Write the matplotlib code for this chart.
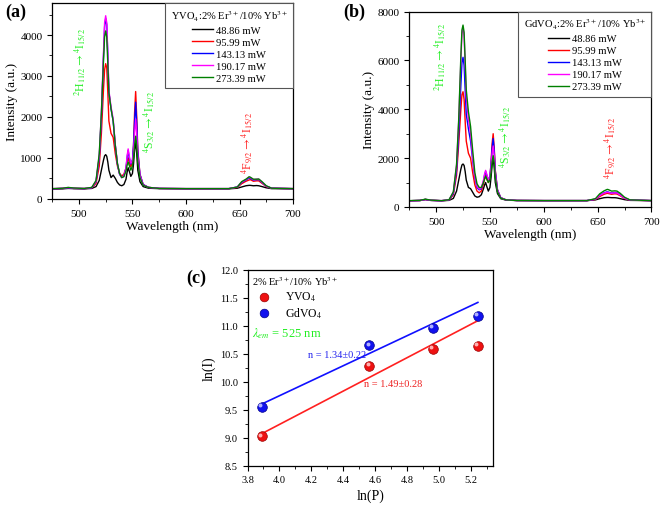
import matplotlib
matplotlib.use("Agg")
import matplotlib.pyplot as plt
from matplotlib.ticker import MultipleLocator

plt.rcParams['font.family'] = ['Liberation Serif', 'DejaVu Serif']
plt.rcParams['mathtext.fontset'] = 'stix'

# ---------------- data ----------------
powers = ["48.86 mW", "95.99 mW", "143.13 mW", "190.17 mW", "273.39 mW"]
line_colors = ["black", "#ff0000", "#0000ff", "#ff00ff", "#008000"]

wl = [475, 485, 490, 495, 505, 512, 516, 519, 521, 523, 524, 525, 526, 527, 528,
      530, 532, 534, 536, 538, 540, 542, 544, 545, 546, 547, 548.5, 550, 551, 552,
      553, 554, 555, 557, 560, 565, 575, 600, 640, 648, 652, 656, 659, 660, 663,
      666, 668, 671, 675, 680, 700]

# YVO4 spectra
yvo_4886 = [240, 245, 255, 250, 245, 255, 300, 450, 700, 950, 1050, 1080, 1040, 900, 700,
            520, 580, 500, 400, 340, 320, 350, 480, 650, 760, 680, 550, 620, 850, 1200,
            1400, 1100, 700, 420, 300, 260, 250, 245, 245, 260, 290, 320, 330, 330, 320,
            325, 320, 300, 270, 250, 245]
yvo_9599 = [245, 255, 270, 255, 250, 265, 380, 800, 1600, 2700, 3150, 3300, 3200, 2600, 1900,
            1600, 1500, 1100, 800, 620, 560, 600, 750, 900, 1000, 900, 780, 900, 1300, 2100,
            2620, 2000, 1200, 600, 350, 280, 255, 250, 250, 280, 370, 430, 460, 470, 430,
            440, 440, 380, 300, 260, 250]
yvo_14313 = [245, 255, 270, 255, 250, 270, 420, 1000, 2000, 3500, 4200, 4400, 4250, 3500, 2600,
             2200, 1900, 1300, 850, 600, 520, 560, 750, 1000, 1180, 1000, 850, 950, 1300, 1900,
             2360, 1850, 1150, 600, 350, 280, 255, 250, 250, 290, 400, 460, 510, 500, 460,
             470, 470, 400, 310, 260, 250]
yvo_19017 = [250, 260, 275, 260, 255, 275, 430, 1050, 2100, 3600, 4300, 4470, 4300, 3550, 2650,
             2250, 1950, 1320, 860, 610, 520, 560, 760, 1050, 1220, 1050, 870, 920, 1150, 1600,
             1950, 1600, 1050, 580, 340, 280, 255, 250, 250, 290, 410, 470, 530, 520, 470,
             480, 480, 410, 310, 260, 250]
yvo_27339 = [250, 260, 280, 265, 255, 280, 450, 1100, 2100, 3400, 3950, 4100, 3950, 3300, 2600,
             2200, 1900, 1300, 860, 620, 520, 540, 680, 820, 900, 820, 700, 800, 1000, 1300,
             1530, 1300, 900, 520, 330, 280, 255, 250, 250, 290, 420, 480, 540, 530, 480,
             480, 485, 420, 320, 260, 250]

# GdVO4 spectra
gd_4886 = [255, 265, 300, 270, 255, 270, 350, 650, 1100, 1550, 1720, 1760, 1700, 1450, 1100,
           800, 750, 600, 450, 400, 420, 500, 750, 900, 1000, 850, 650, 800, 1200, 1700,
           2000, 1600, 1000, 550, 340, 280, 265, 260, 260, 290, 340, 380, 390, 390, 380,
           380, 370, 340, 300, 270, 260]
gd_9599 = [255, 265, 310, 270, 255, 280, 500, 1300, 2600, 4000, 4600, 4720, 4400, 3500, 2700,
           2200, 2000, 1400, 900, 650, 580, 650, 950, 1150, 1300, 1150, 1000, 1200, 1800, 2600,
           3000, 2400, 1500, 700, 380, 290, 265, 260, 260, 310, 430, 520, 560, 550, 520,
           540, 530, 460, 350, 280, 260]
gd_14313 = [255, 265, 310, 270, 255, 285, 550, 1500, 3000, 5000, 5900, 6130, 5800, 4800, 3800,
            3200, 2700, 1900, 1200, 800, 700, 750, 1050, 1300, 1450, 1300, 1100, 1250, 1750, 2400,
            2800, 2300, 1450, 700, 380, 290, 265, 260, 260, 320, 480, 580, 620, 610, 570,
            590, 580, 500, 370, 285, 260]
gd_19017 = [255, 265, 310, 275, 260, 290, 600, 1700, 3500, 6000, 7100, 7350, 7000, 5800, 4500,
            3600, 3000, 2000, 1250, 850, 730, 780, 1100, 1350, 1500, 1350, 1120, 1200, 1600, 2200,
            2500, 2100, 1350, 680, 370, 290, 265, 260, 260, 320, 470, 570, 600, 590, 560,
            580, 570, 490, 360, 285, 260]
gd_27339 = [260, 270, 320, 280, 260, 295, 620, 1750, 3600, 6200, 7250, 7450, 7150, 6000, 4800,
            3900, 3300, 2300, 1400, 950, 800, 800, 1000, 1150, 1250, 1150, 1000, 1100, 1400, 1850,
            2100, 1800, 1200, 620, 360, 290, 265, 260, 260, 340, 540, 660, 720, 710, 650,
            660, 650, 560, 400, 290, 260]

yvo_spectra = [yvo_4886, yvo_9599, yvo_14313, yvo_19017, yvo_27339]
gd_spectra = [gd_4886, gd_9599, gd_14313, gd_19017, gd_27339]

# panel (c): ln(P) vs ln(I)
lnP = [3.89, 4.565, 4.965, 5.245]
lnI_yvo = [9.02, 10.28, 10.58, 10.64]
lnI_gd = [9.55, 10.65, 10.96, 11.18]
fit_x = [3.89, 5.245]
slope_yvo, icpt_yvo = 1.49, 3.274
slope_gd, icpt_gd = 1.34, 4.387

green_txt = "#22ee22"
red_txt = "#ff2222"

fig = plt.figure(figsize=(6.6, 5.06), dpi=100)


def style_spec_axes(ax, ymax, ymaj, ymin):
    ax.set_xlim(475, 700)
    ax.set_ylim(0, ymax)
    ax.xaxis.set_major_locator(MultipleLocator(50))
    ax.xaxis.set_minor_locator(MultipleLocator(25))
    ax.yaxis.set_major_locator(MultipleLocator(ymaj))
    ax.yaxis.set_minor_locator(MultipleLocator(ymin))
    ax.tick_params(which='both', direction='out', top=False, right=False, labelsize=8)
    ax.tick_params(which='major', length=3.5)
    ax.tick_params(which='minor', length=2)
    ax.set_xlabel("Wavelength (nm)", fontsize=9.5, labelpad=2)
    ax.set_ylabel("Intensity (a.u.)", fontsize=9.5, labelpad=2)
    for s in ax.spines.values():
        s.set_linewidth(0.9)


def draw_spectra(ax, spectra, title):
    for y, c, lab in zip(spectra, line_colors, powers):
        ax.plot(wl, y, color=c, lw=1.0, label=lab)
    leg = ax.legend(loc='upper right', title=title, fontsize=7.6, title_fontsize=7.6,
                    fancybox=False, framealpha=1, edgecolor='#555555',
                    borderaxespad=0.0, handlelength=2.0, labelspacing=0.25,
                    handletextpad=0.3, borderpad=0.5)
    leg.get_frame().set_linewidth(0.8)


def transition_labels(ax, pos_h, pos_s, pos_f):
    kw = dict(rotation=90, ha='center', va='center', fontsize=8.5)
    ax.text(*pos_h, r"$^2$H$_{11/2}$$\rightarrow$$^4$I$_{15/2}$", color=green_txt, **kw)
    ax.text(*pos_s, r"$^4$S$_{3/2}$$\rightarrow$$^4$I$_{15/2}$", color=green_txt, **kw)
    ax.text(*pos_f, r"$^4$F$_{9/2}$$\rightarrow$$^4$I$_{15/2}$", color=red_txt, **kw)


# ---------------- (a) YVO4 ----------------
ax1 = fig.add_axes([0.079, 0.605, 0.365, 0.387])
draw_spectra(ax1, yvo_spectra, r"YVO$_4$:2% Er$^{3+}$/10% Yb$^{3+}$")
style_spec_axes(ax1, 4780, 1000, 500)
transition_labels(ax1, (501, 3370), (566, 1900), (657, 1390))
fig.text(0.008, 0.975, "(a)", fontsize=13, fontweight='bold', va='center')

# ---------------- (b) GdVO4 ----------------
ax2 = fig.add_axes([0.620, 0.589, 0.367, 0.386])
draw_spectra(ax2, gd_spectra, r"GdVO$_4$:2% Er$^{3+}$/10% Yb$^{3+}$")
style_spec_axes(ax2, 8000, 2000, 1000)
transition_labels(ax2, (503.7, 6185), (564, 2900), (662, 2450))
fig.text(0.52, 0.975, "(b)", fontsize=13, fontweight='bold', va='center')

# ---------------- (c) ln(I) vs ln(P) ----------------
ax3 = fig.add_axes([0.375, 0.078, 0.372, 0.387])
ax3.plot(fit_x, [slope_yvo * x + icpt_yvo for x in fit_x], color='#ff2020', lw=1.2)
ax3.plot(fit_x, [slope_gd * x + icpt_gd for x in fit_x], color='#1010ff', lw=1.2)
h1 = ax3.scatter(lnP, lnI_yvo, s=48, color='#ee1111', edgecolor='#990000', lw=0.5,
                 zorder=3, label=r"YVO$_4$")
h2 = ax3.scatter(lnP, lnI_gd, s=48, color='#1111ee', edgecolor='#000088', lw=0.5,
                 zorder=3, label=r"GdVO$_4$")
# sphere highlights
ax3.scatter([x - 0.012 for x in lnP], [y + 0.03 for y in lnI_yvo], s=8, color='#ffb0b0',
            lw=0, zorder=4)
ax3.scatter([x - 0.012 for x in lnP], [y + 0.03 for y in lnI_gd], s=8, color='#b0b0ff',
            lw=0, zorder=4)
leg3 = ax3.legend(handles=[h1, h2], loc='upper left', frameon=False,
                  title=r"2% Er$^{3+}$/10% Yb$^{3+}$", title_fontsize=7.5, fontsize=8.5,
                  alignment='left', borderaxespad=0.3, handletextpad=0.8,
                  labelspacing=0.2, markerscale=0.9, borderpad=0.1)
ax3.text(0.02, 0.68, r"$\lambda_{em}$ = 525 nm", transform=ax3.transAxes,
         color=green_txt, fontsize=9, va='center')
ax3.text(4.18, 10.49, "n = 1.34±0.22", color='#2222ee', fontsize=7.5, va='center')
ax3.text(4.53, 9.96, "n = 1.49±0.28", color='#ee2222', fontsize=7.5, va='center')
ax3.set_xlim(3.8, 5.34)
ax3.set_ylim(8.5, 12.0)
ax3.xaxis.set_major_locator(MultipleLocator(0.2))
ax3.xaxis.set_minor_locator(MultipleLocator(0.1))
ax3.yaxis.set_major_locator(MultipleLocator(0.5))
ax3.yaxis.set_minor_locator(MultipleLocator(0.25))
ax3.tick_params(which='both', direction='out', labelsize=7.5)
ax3.tick_params(which='major', length=3.5)
ax3.tick_params(which='minor', length=2)
ax3.set_xlabel("ln(P)", fontsize=10, labelpad=3)
ax3.set_ylabel("ln(I)", fontsize=10, labelpad=3)
for s in ax3.spines.values():
    s.set_linewidth(0.9)
fig.text(0.282, 0.45, "(c)", fontsize=13, fontweight='bold', va='center')

fig.savefig("out.png", dpi=100)
